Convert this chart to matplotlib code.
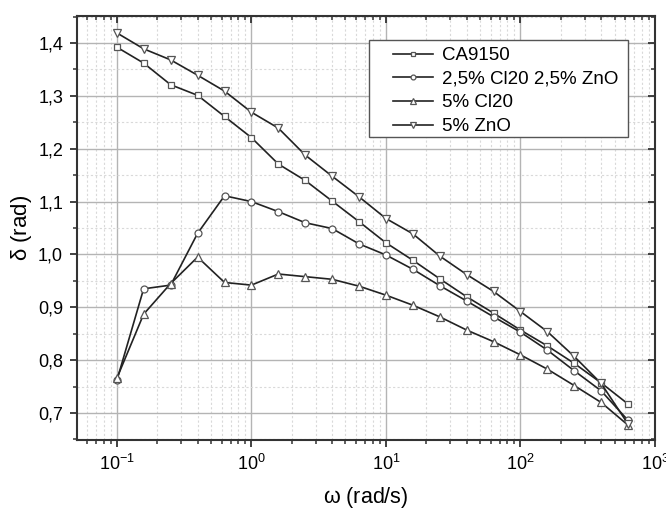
import matplotlib
matplotlib.use("Agg")
from matplotlib import pyplot as plt
from matplotlib.patches import Rectangle
from matplotlib.ticker import FuncFormatter, MultipleLocator, LogLocator

## Données
omega = [0.1, 0.158, 0.251, 0.398, 0.631, 1.0, 1.585, 2.51, 3.98, 6.31,
         10, 15.85, 25.1, 39.8, 63.1, 100, 158.5, 251, 398, 631]
ca9150 = [1.392, 1.362, 1.321, 1.301, 1.261, 1.221, 1.171, 1.140, 1.101, 1.062,
          1.022, 0.989, 0.954, 0.920, 0.889, 0.857, 0.827, 0.794, 0.757, 0.717]
cl20_zno = [0.762, 0.935, 0.942, 1.040, 1.111, 1.100, 1.081, 1.060, 1.049, 1.020,
            0.999, 0.972, 0.941, 0.912, 0.882, 0.853, 0.819, 0.780, 0.742, 0.686]
cl20 = [0.766, 0.887, 0.945, 0.995, 0.947, 0.942, 0.963, 0.958, 0.953, 0.940,
        0.923, 0.904, 0.882, 0.857, 0.835, 0.810, 0.783, 0.752, 0.720, 0.677]
zno = [1.419, 1.389, 1.368, 1.339, 1.309, 1.269, 1.239, 1.188, 1.148, 1.109,
       1.068, 1.039, 0.997, 0.962, 0.930, 0.892, 0.854, 0.807, 0.756, 0.679]

labels = ["CA9150", "2,5% Cl20 2,5% ZnO", "5% Cl20", "5% ZnO"]
markers = ["s", "o", "^", "v"]
tailles = [4.5, 5, 5.5, 5.5]

plt.rcParams["font.family"] = ["Liberation Sans", "DejaVu Sans"]
plt.rcParams["mathtext.fontset"] = "stix"
plt.rcParams["mathtext.default"] = "regular"
plt.rcParams["font.size"] = 13

f = plt.figure(figsize=(6.66, 5.12), dpi=100)
ax = f.add_axes([0.1156, 0.1406, 0.8679, 0.8281])

for serie, lab, m, t in zip([ca9150, cl20_zno, cl20, zno], labels, markers, tailles):
	ax.plot(omega, serie, color="#222222", lw=1.2, marker=m, ms=t,
	        mfc="white", mec="#555555", mew=0.9, label=lab, zorder=3)

ax.set_xscale("log")
ax.set_xlim(0.0505, 1000)
ax.set_ylim(0.649, 1.451)
ax.yaxis.set_major_locator(MultipleLocator(0.1))
ax.yaxis.set_minor_locator(MultipleLocator(0.05))
ax.yaxis.set_major_formatter(FuncFormatter(lambda v, p: ("%.1f" % v).replace(".", ",")))
ax.xaxis.set_minor_locator(LogLocator(base=10, subs=range(2, 10), numticks=20))

ax.grid(which="major", color="#b4b4b4", lw=1.0, ls="-", zorder=0)
ax.grid(which="minor", color="#d9d9d9", lw=0.8, ls=(0, (2, 2)), zorder=0)
ax.set_axisbelow(True)

for s in ax.spines.values():
	s.set_color("#333333")
	s.set_linewidth(1.5)
ax.tick_params(which="major", direction="out", length=5, width=1.3, color="#333333", labelsize=13, pad=5)
ax.tick_params(which="minor", direction="out", length=3, width=1.1, color="#333333")

# ticks intérieurs en haut et à droite
ax2 = ax.twiny()
ax2.set_xscale("log")
ax2.set_xlim(ax.get_xlim())
ax2.xaxis.set_minor_locator(LogLocator(base=10, subs=range(2, 10), numticks=20))
ax2.tick_params(which="major", direction="in", length=5, width=1.3, color="#333333", labeltop=False)
ax2.tick_params(which="minor", direction="in", length=3, width=1.1, color="#333333")
ax3 = ax.twinx()
ax3.set_ylim(ax.get_ylim())
ax3.yaxis.set_major_locator(MultipleLocator(0.1))
ax3.yaxis.set_minor_locator(MultipleLocator(0.05))
ax3.tick_params(which="major", direction="in", length=5, width=1.3, color="#333333", labelright=False)
ax3.tick_params(which="minor", direction="in", length=3, width=1.1, color="#333333")
for a in (ax2, ax3):
	for s in a.spines.values():
		s.set_visible(False)

ax.set_xlabel(r"$\omega$ (rad/s)", fontsize=15.5, labelpad=8)
ax.set_ylabel(r"$\delta$ (rad)", fontsize=16, labelpad=3)

# cadre de la légende (plus large à gauche, comme sous Origin)
cadre = Rectangle((0.505, 0.715), 0.448, 0.228, transform=ax.transAxes,
                  facecolor="white", edgecolor="#555555", lw=1.0, zorder=4)
ax.add_patch(cadre)
leg = ax.legend(loc="upper left", bbox_to_anchor=(0.547, 0.927), fontsize=13.5,
                frameon=False, markerscale=0.7, handlelength=2.15, borderpad=0,
                labelspacing=0.35, handletextpad=0.45, borderaxespad=0)
leg.set_zorder(5)

plt.savefig("out.png", dpi=100)
plt.close(f)
